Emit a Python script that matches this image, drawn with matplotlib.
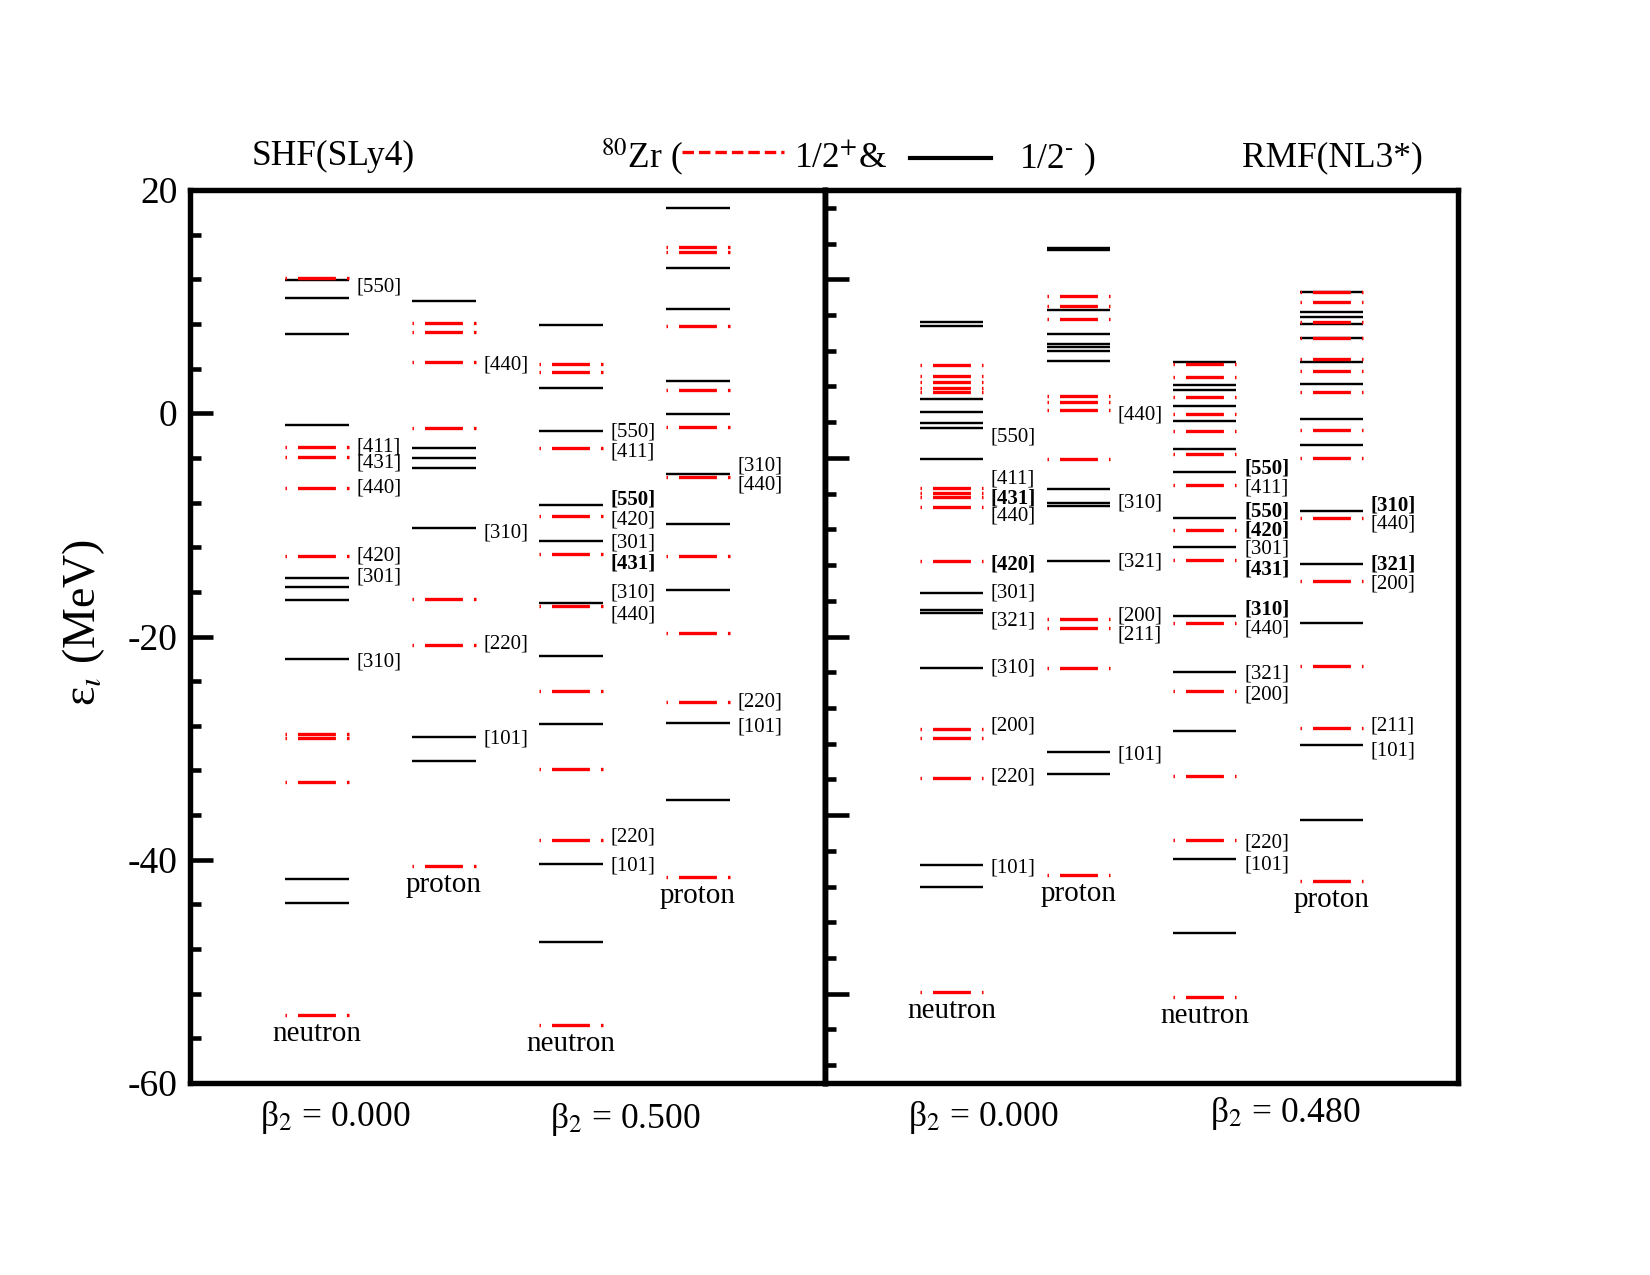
import matplotlib
matplotlib.use("Agg")
import matplotlib.pyplot as plt
from matplotlib.lines import Line2D
from matplotlib.ticker import MultipleLocator, NullFormatter

plt.rcParams['font.family'] = ['Liberation Serif', 'DejaVu Serif']
plt.rcParams['mathtext.fontset'] = 'stix'
plt.rcParams['lines.scale_dashes'] = False
plt.rcParams['axes.unicode_minus'] = False

## single-particle levels (MeV), 1/2- (minus) and 1/2+ (plus)
## SHF(SLy4), beta2 = 0.000
shf_n0_minus = [11.9, 10.3, 7.07, -1.07, -14.74, -15.58, -16.72, -22.06, -41.7, -43.87]
shf_n0_plus = [12.1, -2.99, -3.91, -6.72, -12.78, -28.7, -29.1, -33.0, -53.9]
shf_n0_tags = ["[550]", "[411]", "[431]", "[440]", "[420]", "[301]", "[310]"]
shf_n0_tag_e = [11.28, -2.99, -4.48, -6.71, -12.78, -14.63, -22.29]
shf_n0_bold = [0, 0, 0, 0, 0, 0, 0]

shf_p0_minus = [10.08, -3.08, -3.97, -4.9, -10.27, -28.98, -31.13]
shf_p0_plus = [8.11, 7.28, 4.62, -1.29, -16.62, -20.8, -40.53]
shf_p0_tags = ["[440]", "[310]", "[220]", "[101]"]
shf_p0_tag_e = [4.32, -10.69, -20.65, -29.19]
shf_p0_bold = [0, 0, 0, 0]

## SHF(SLy4), beta2 = 0.500
shf_n5_minus = [7.88, 2.29, -1.58, -8.21, -11.4, -17.0, -21.76, -27.8, -40.4, -47.4]
shf_n5_plus = [4.39, 3.7, -3.11, -9.17, -12.6, -17.25, -24.9, -31.9, -38.26, -54.8]
shf_n5_tags = ["[550]", "[411]", "[550]", "[420]", "[301]", "[431]", "[310]", "[440]", "[220]", "[101]"]
shf_n5_tag_e = [-1.70, -3.49, -7.70, -9.55, -11.58, -13.43, -16.11, -18.06, -37.99, -40.59]
shf_n5_bold = [0, 0, 1, 0, 0, 1, 0, 0, 0, 0]

shf_p5_minus = [18.38, 13.04, 9.31, 2.92, -0.06, -5.4, -9.91, -15.82, -27.75, -34.65]
shf_p5_plus = [14.9, 14.47, 7.84, 2.06, -1.23, -5.7, -12.75, -19.7, -25.9, -41.57]
shf_p5_tags = ["[310]", "[440]", "[220]", "[101]"]
shf_p5_tag_e = [-4.72, -6.42, -25.91, -28.15]
shf_p5_bold = [0, 0, 0, 0]

## RMF(NL3*), beta2 = 0.000
rmf_n0_minus = [8.2, 7.82, 1.28, 0.09, -0.9, -1.29, -4.06, -16.1, -17.6, -17.9, -22.86, -40.5, -42.4]
rmf_n0_plus = [4.3, 3.37, 2.78, 2.24, 1.93, -6.66, -7.1, -7.49, -8.36, -13.25, -28.3, -29.07, -32.7, -51.87]
rmf_n0_tags = ["[550]", "[411]", "[431]", "[440]", "[420]", "[301]", "[321]", "[310]", "[200]", "[220]", "[101]"]
rmf_n0_tag_e = [-2.15, -5.91, -7.61, -9.19, -13.58, -16.11, -18.57, -22.86, -28.06, -32.59, -40.73]
rmf_n0_bold = [0, 0, 1, 0, 1, 0, 0, 0, 0, 0, 0]

rmf_p0_minus = [14.83, 14.59, 9.28, 7.1, 6.18, 5.96, 5.58, 4.65, -6.75, -8.0, -8.35, -13.28, -30.35, -32.3]
rmf_p0_plus = [10.5, 9.61, 8.44, 1.55, 0.98, 0.27, -4.06, -18.45, -19.25, -22.83, -41.4]
rmf_p0_tags = ["[440]", "[310]", "[321]", "[200]", "[211]", "[101]"]
rmf_p0_tag_e = [-0.15, -8.0, -13.29, -18.15, -19.85, -30.59]
rmf_p0_bold = [0, 0, 0, 0, 0, 0]

## RMF(NL3*), beta2 = 0.480
rmf_n5_minus = [4.62, 2.5, 2.09, 0.68, -0.69, -3.22, -5.28, -9.37, -11.97, -18.2, -23.2, -28.5, -39.9, -46.55]
rmf_n5_plus = [4.41, 3.22, 1.43, -0.06, -1.56, -3.67, -6.39, -10.45, -13.19, -18.8, -24.9, -32.5, -38.2, -52.3]
rmf_n5_tags = ["[550]", "[411]", "[550]", "[420]", "[301]", "[431]", "[310]", "[440]", "[321]", "[200]", "[220]", "[101]"]
rmf_n5_tag_e = [-4.92, -6.71, -8.81, -10.51, -12.18, -13.97, -17.61, -19.34, -23.34, -25.22, -38.5, -40.44]
rmf_n5_bold = [1, 0, 1, 1, 0, 1, 1, 0, 0, 0, 0, 0]

rmf_p5_minus = [10.83, 9.1, 8.62, 8.0, 6.74, 4.56, 2.65, -0.51, -2.87, -8.72, -13.52, -18.8, -29.7, -36.4]
rmf_p5_plus = [10.83, 9.94, 8.17, 6.74, 4.86, 3.81, 1.93, -1.52, -4.0, -9.4, -15.0, -22.6, -28.2, -41.9]
rmf_p5_tags = ["[310]", "[440]", "[321]", "[200]", "[211]", "[101]"]
rmf_p5_tag_e = [-8.3, -9.94, -13.58, -15.28, -28.06, -30.3]
rmf_p5_bold = [1, 0, 1, 0, 0, 0]

deformations = ["0.000", "0.500", "0.000", "0.480"]


def draw_column(ax, xc, minus, plus, tags, tag_e, bold, name):
	hw = 0.05
	for e in minus:
		ax.plot(
			[xc - hw, xc + hw],
			[e, e],
			color="black",
			lw=1.15,
			solid_capstyle="butt")
	for e in plus:
		ax.plot(
			[xc - hw, xc + hw],
			[e, e],
			color="red",
			lw=1.6,
			linestyle=(17.5, (18.2, 5.3)),
			dash_capstyle="butt")
	for t, e, b in zip(tags, tag_e, bold):
		ax.text(
			xc + hw + 0.012,
			e,
			t,
			fontsize=10,
			ha="left",
			va="center",
			fontweight="bold" if b else "normal")
	ax.text(
		xc,
		min(minus + plus) - 1.7,
		name,
		fontsize=14,
		ha="center",
		va="center")


W, H = 1650, 1275
fig = plt.figure(
	figsize=(11, 8.5),
	dpi=150)
ax1 = fig.add_axes([190 / W, 1 - 1083 / H, 635 / W, 893 / H])
ax2 = fig.add_axes([825 / W, 1 - 1083 / H, 633 / W, 893 / H])

## left panel : SHF
draw_column(ax1, 0.2, shf_n0_minus, shf_n0_plus, shf_n0_tags, shf_n0_tag_e, shf_n0_bold, "neutron")
draw_column(ax1, 0.4, shf_p0_minus, shf_p0_plus, shf_p0_tags, shf_p0_tag_e, shf_p0_bold, "proton")
draw_column(ax1, 0.6, shf_n5_minus, shf_n5_plus, shf_n5_tags, shf_n5_tag_e, shf_n5_bold, "neutron")
draw_column(ax1, 0.8, shf_p5_minus, shf_p5_plus, shf_p5_tags, shf_p5_tag_e, shf_p5_bold, "proton")

## right panel : RMF
draw_column(ax2, 0.2, rmf_n0_minus, rmf_n0_plus, rmf_n0_tags, rmf_n0_tag_e, rmf_n0_bold, "neutron")
draw_column(ax2, 0.4, rmf_p0_minus, rmf_p0_plus, rmf_p0_tags, rmf_p0_tag_e, rmf_p0_bold, "proton")
draw_column(ax2, 0.6, rmf_n5_minus, rmf_n5_plus, rmf_n5_tags, rmf_n5_tag_e, rmf_n5_bold, "neutron")
draw_column(ax2, 0.8, rmf_p5_minus, rmf_p5_plus, rmf_p5_tags, rmf_p5_tag_e, rmf_p5_bold, "proton")

for ax in (ax1, ax2):
	ax.set_xlim(0, 1)
	ax.set_ylim(-60, 20)
	ax.set_xticks([])
	for s in ax.spines.values():
		s.set_linewidth(2.6)

ax1.yaxis.set_major_locator(MultipleLocator(20))
ax1.yaxis.set_minor_locator(MultipleLocator(4))
ax1.tick_params(
	axis="y", which="major", direction="in",
	length=11, width=2.2, labelsize=18, pad=6)
ax1.tick_params(
	axis="y", which="minor", direction="in",
	length=5.3, width=2.2)

## right panel has its own (unlabelled) scale on its left axis
ax2.set_yticks([])
sec = ax2.secondary_yaxis(
	"left",
	functions=(lambda e: 1.25 * e - 15, lambda r: (r + 15) / 1.25))
sec.yaxis.set_major_locator(MultipleLocator(20))
sec.yaxis.set_minor_locator(MultipleLocator(4))
sec.yaxis.set_major_formatter(NullFormatter())
sec.tick_params(which="major", direction="in", length=11.5, width=2.2)
sec.tick_params(which="minor", direction="in", length=5.3, width=2.2)
sec.spines["left"].set_linewidth(2.6)

## labels
fig.text(84 / W, 1 - 622 / H, "ε$_{ι}$ (MeV)",
	rotation=90, fontsize=22, ha="center", va="center")
fig.text(333 / W, 1 - 156 / H, "SHF(SLy4)", fontsize=17, ha="center", va="center")
fig.text(1332 / W, 1 - 158 / H, "RMF(NL3*)", fontsize=17, ha="center", va="center")

## legend in the title line
fig.text(601 / W, 1 - 168 / H, r"$^{80}$Zr (", fontsize=17, ha="left", va="baseline")
fig.add_artist(Line2D(
	[682 / W, 784 / W], [1 - 152 / H, 1 - 152 / H],
	color="red", lw=1.6, linestyle=(0, (5.5, 2.4)),
	transform=fig.transFigure))
fig.text(794 / W, 1 - 168 / H, r"1/2$^{+}$&", fontsize=17, ha="left", va="baseline")
fig.add_artist(Line2D(
	[910 / W, 991 / W], [1 - 158 / H, 1 - 158 / H],
	color="black", lw=2.0,
	transform=fig.transFigure))
fig.text(1019 / W, 1 - 168 / H, r"1/2$^{\text{-}}$ )", fontsize=17, ha="left", va="baseline")

## deformation labels
beta_x = [335, 625, 983, 1285]
beta_y = [1126, 1128, 1126, 1122]
for bx, by, d in zip(beta_x, beta_y, deformations):
	fig.text(bx / W, 1 - by / H, "β$_{2}$ = " + d,
		fontsize=17, ha="center", va="baseline")

fig.savefig("out.png", dpi=150)
plt.close()
